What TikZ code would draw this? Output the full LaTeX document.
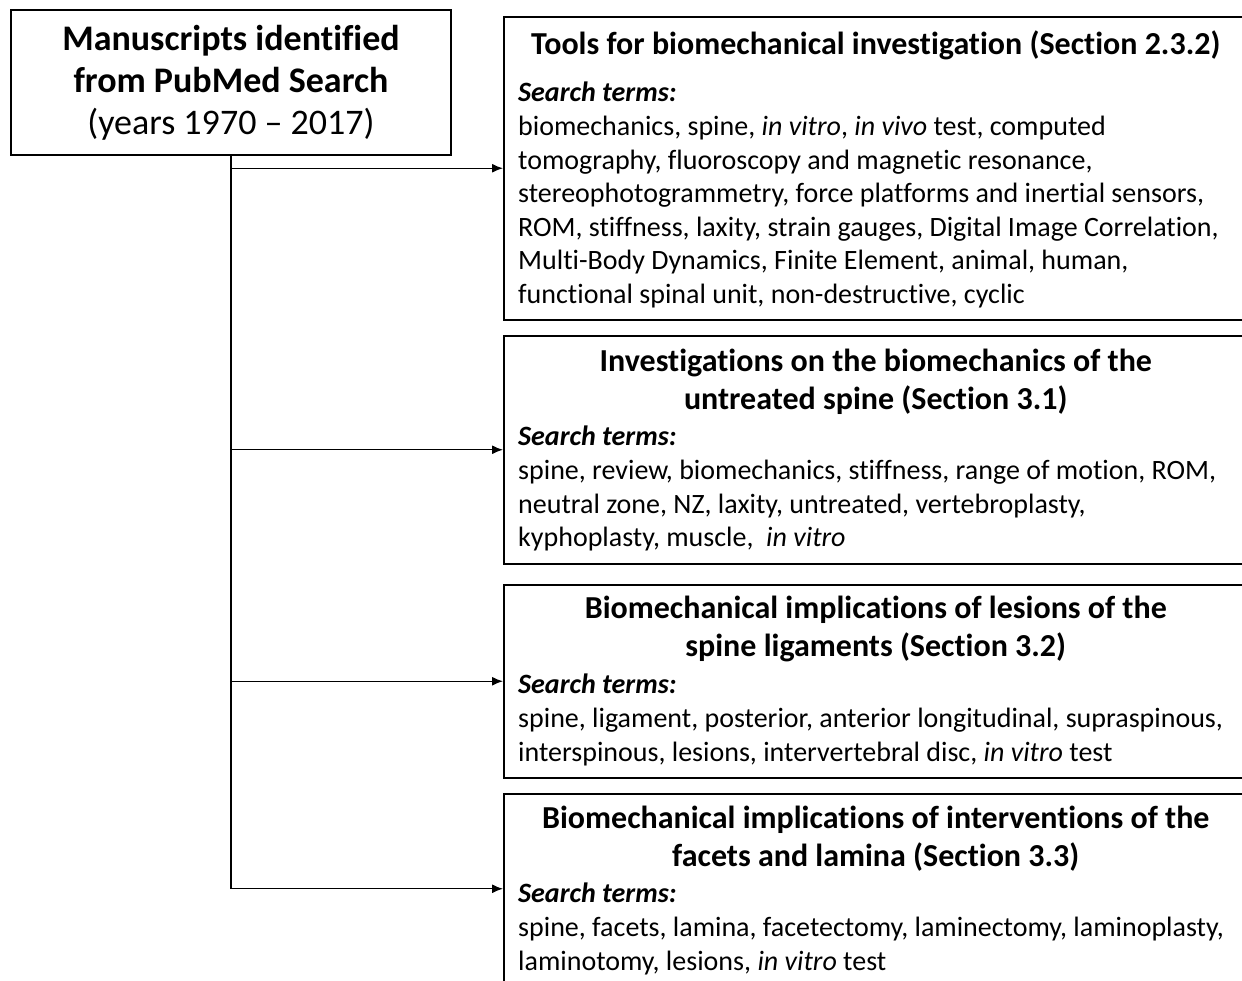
\documentclass[tikz,border=0pt]{standalone}
\usepackage{fontspec}
\setmainfont{Carlito}[Ligatures=NoCommon]
\usepackage{tikz}
\usetikzlibrary{positioning,arrows.meta,calc}
\newcommand{\mainfs}{\fontsize{36}{42}\selectfont}
\newcommand{\headfs}{\fontsize{32}{38}\selectfont}
\newcommand{\bodyfs}{\fontsize{28}{33.6}\selectfont}
\tikzset{
  srcblk/.style  ={draw, rectangle, align=center, font=\mainfs, line width=1.5pt, minimum width=440pt, minimum height=145pt, inner sep=0pt},
  secblk/.style  ={draw, rectangle, line width=1.5pt, anchor=north west, minimum width=744pt, inner sep=0pt},
  sectitle/.style={align=center, font=\headfs\bfseries, anchor=north, inner sep=0pt},
  terms/.style   ={align=left, font=\bodyfs, anchor=north west, inner sep=0pt},
  trunk/.style   ={line width=1.3pt},
  arr/.style     ={-{Latex[length=11pt,width=9pt]}, line width=1.3pt},
}

\begin{document}
\begin{tikzpicture}[x=1pt,y=-1pt]
    \clip (0,0) rectangle (1242,980);
    \fill[white] (0,0) rectangle (1242,980);

    \node[srcblk] (src) at (231,82.5) {\textbf{Manuscripts identified}\\ \textbf{from PubMed Search}\\ (years 1970 \textendash{} 2017)};

    \node[secblk, minimum height=303pt] (box1) at (503,16) {};
    \node[secblk, minimum height=228pt] (box2) at (503,335) {};
    \node[secblk, minimum height=193pt] (box3) at (503,584) {};
    \node[secblk, minimum height=190pt] (box4) at (503,793) {};

    \node[sectitle] (title1) at ($(box1.north)+(0,15)$) {Tools for biomechanical investigation (Section 2.3.2)};
    \node[terms] (terms1) at ($(box1.north west)+(15,66)$) {\textbf{\textit{Search terms:}}\\
      biomechanics, spine, \textit{in vitro}, \textit{in vivo} test, computed\\
      tomography, fluoroscopy and magnetic resonance,\\
      stereophotogrammetry, force platforms and inertial sensors,\\
      ROM, stiffness, laxity, strain gauges, Digital Image Correlation,\\
      Multi-Body Dynamics, Finite Element, animal, human,\\
      functional spinal unit, non-destructive, cyclic};

    \node[sectitle] (title2) at ($(box2.north)+(0,14)$) {Investigations on the biomechanics of the\\ untreated spine (Section 3.1)};
    \node[terms] (terms2) at ($(box2.north west)+(15,91)$) {\textbf{\textit{Search terms:}}\\
      spine, review, biomechanics, stiffness, range of motion, ROM,\\
      neutral zone, NZ, laxity, untreated, vertebroplasty,\\
      kyphoplasty, muscle, \ \textit{in vitro}};

    \node[sectitle] (title3) at ($(box3.north)+(0,12)$) {Biomechanical implications of lesions of the\\ spine ligaments (Section 3.2)};
    \node[terms] (terms3) at ($(box3.north west)+(15,90)$) {\textbf{\textit{Search terms:}}\\
      spine, ligament, posterior, anterior longitudinal, supraspinous,\\
      interspinous, lesions, intervertebral disc, \textit{in vitro} test};

    \node[sectitle] (title4) at ($(box4.north)+(0,13)$) {Biomechanical implications of interventions of the\\ facets and lamina (Section 3.3)};
    \node[terms] (terms4) at ($(box4.north west)+(15,90)$) {\textbf{\textit{Search terms:}}\\
      spine, facets, lamina, facetectomy, laminectomy, laminoplasty,\\
      laminotomy, lesions, \textit{in vitro} test};

    \draw[trunk] (src.south) -- (src.south |- box4.west);
    \foreach \b in {box1,box2,box3,box4}
      \draw[arr] (src.south |- \b.west) -- (\b.west);
\end{tikzpicture}
\end{document}
